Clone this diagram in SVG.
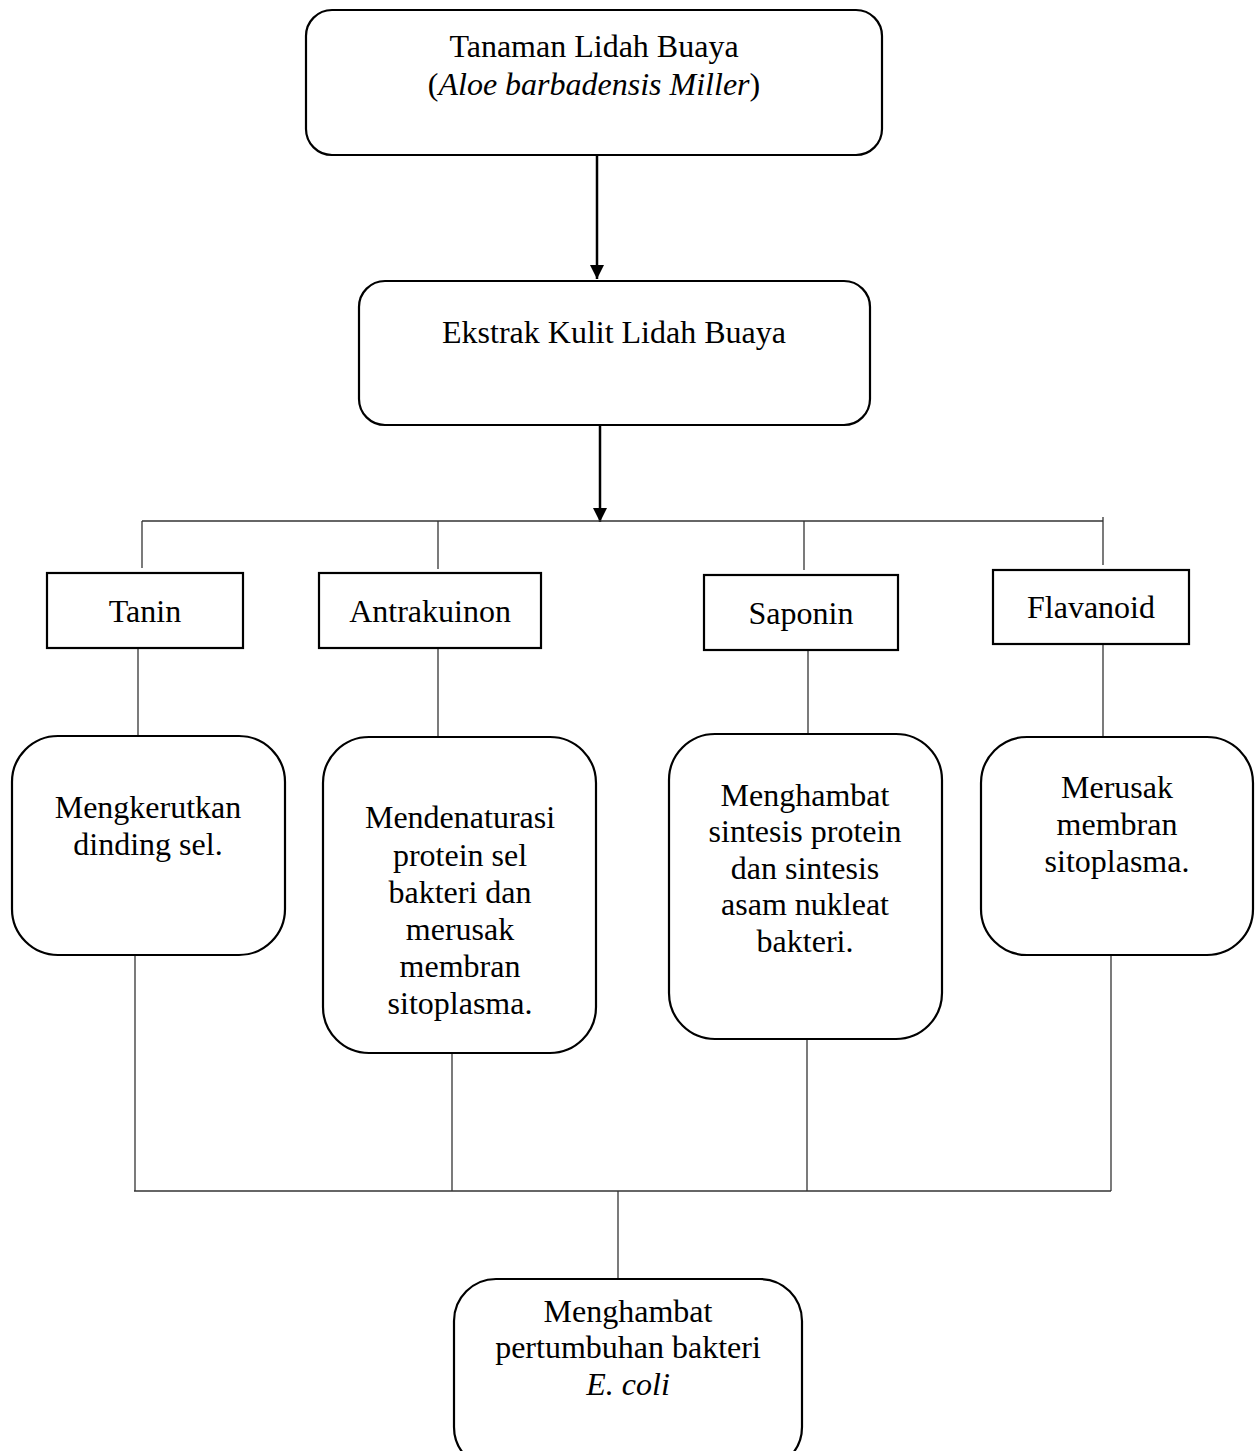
<svg xmlns="http://www.w3.org/2000/svg" width="1256" height="1451" viewBox="0 0 1256 1451">
<defs>
<marker id="ah" viewBox="0 0 10 10" refX="10" refY="5" markerWidth="7" markerHeight="7" markerUnits="userSpaceOnUse" orient="auto">
<path d="M0,0 L10,5 L0,10 z" fill="#000"/>
</marker>
<marker id="ah2" viewBox="0 0 14 14" refX="14" refY="7" markerWidth="14" markerHeight="14" markerUnits="userSpaceOnUse" orient="auto">
<path d="M0,0 L14,7 L0,14 z" fill="#000"/>
</marker>
</defs>
<style>
.box{fill:#fff;stroke:#000;stroke-width:2.2}
.t{font-family:"Liberation Serif","Times New Roman",serif;font-size:32px;fill:#000;text-anchor:middle}
.i{font-style:italic}
.c{fill:none;stroke:#333;stroke-width:1.3}
.a{fill:none;stroke:#000;stroke-width:2.5}
</style>
<rect width="1256" height="1451" fill="#fff"/>
<g id="connectors">
<line class="a" x1="597" y1="156" x2="597" y2="279" marker-end="url(#ah2)"/>
<line class="a" x1="600" y1="426" x2="600" y2="522" marker-end="url(#ah2)"/>
<polyline class="c" points="1103,521 142,521"/>
<line class="c" x1="142" y1="521" x2="142" y2="568"/>
<line class="c" x1="438" y1="521" x2="438" y2="569"/>
<line class="c" x1="804" y1="521" x2="804" y2="570"/>
<line class="c" x1="1103" y1="517" x2="1103" y2="565"/>
<line class="c" x1="138" y1="648" x2="138" y2="737"/>
<line class="c" x1="438" y1="648" x2="438" y2="738"/>
<line class="c" x1="808" y1="650" x2="808" y2="735"/>
<line class="c" x1="1103" y1="644" x2="1103" y2="738"/>
<line class="c" x1="135" y1="955" x2="135" y2="1191"/>
<line class="c" x1="452" y1="1053" x2="452" y2="1191"/>
<line class="c" x1="807" y1="1039" x2="807" y2="1191"/>
<line class="c" x1="1111" y1="955" x2="1111" y2="1191"/>
<line class="c" x1="134" y1="1191" x2="1111" y2="1191"/>
<line class="c" x1="618" y1="1191" x2="618" y2="1280"/>
</g>
<g id="n-tanaman">
<rect class="box" x="306" y="10" width="576" height="145" rx="26"/>
<text class="t" x="594" y="57">Tanaman Lidah Buaya</text>
<text class="t" x="594" y="95">(<tspan class="i">Aloe barbadensis Miller</tspan>)</text>
</g>
<g id="n-ekstrak">
<rect class="box" x="359" y="281" width="511" height="144" rx="26"/>
<text class="t" x="614" y="343">Ekstrak Kulit Lidah Buaya</text>
</g>
<g id="n-tanin">
<rect class="box" x="47" y="573" width="196" height="75"/>
<text class="t" x="145" y="622">Tanin</text>
</g>
<g id="n-antrakuinon">
<rect class="box" x="319" y="573" width="222" height="75"/>
<text class="t" x="430" y="622">Antrakuinon</text>
</g>
<g id="n-saponin">
<rect class="box" x="704" y="575" width="194" height="75"/>
<text class="t" x="801" y="624">Saponin</text>
</g>
<g id="n-flavanoid">
<rect class="box" x="993" y="570" width="196" height="74"/>
<text class="t" x="1091" y="618">Flavanoid</text>
</g>
<g id="n-tanin-effect">
<rect class="box" x="12" y="736" width="273" height="219" rx="46"/>
<text class="t" x="148" y="818">Mengkerutkan</text>
<text class="t" x="148" y="855">dinding sel.</text>
</g>
<g id="n-antrakuinon-effect">
<rect class="box" x="323" y="737" width="273" height="316" rx="46"/>
<text class="t" x="460" y="828">Mendenaturasi</text>
<text class="t" x="460" y="866">protein sel</text>
<text class="t" x="460" y="903">bakteri dan</text>
<text class="t" x="460" y="940">merusak</text>
<text class="t" x="460" y="977">membran</text>
<text class="t" x="460" y="1014">sitoplasma.</text>
</g>
<g id="n-saponin-effect">
<rect class="box" x="669" y="734" width="273" height="305" rx="46"/>
<text class="t" x="805" y="806">Menghambat</text>
<text class="t" x="805" y="842">sintesis protein</text>
<text class="t" x="805" y="879">dan sintesis</text>
<text class="t" x="805" y="915">asam nukleat</text>
<text class="t" x="805" y="952">bakteri.</text>
</g>
<g id="n-flavanoid-effect">
<rect class="box" x="981" y="737" width="272" height="218" rx="46"/>
<text class="t" x="1117" y="798">Merusak</text>
<text class="t" x="1117" y="835">membran</text>
<text class="t" x="1117" y="872">sitoplasma.</text>
</g>
<g id="n-hasil">
<rect class="box" x="454" y="1279" width="348" height="190" rx="42"/>
<text class="t" x="628" y="1322">Menghambat</text>
<text class="t" x="628" y="1358">pertumbuhan bakteri</text>
<text class="t i" x="628" y="1395">E. coli</text>
</g>
</svg>
